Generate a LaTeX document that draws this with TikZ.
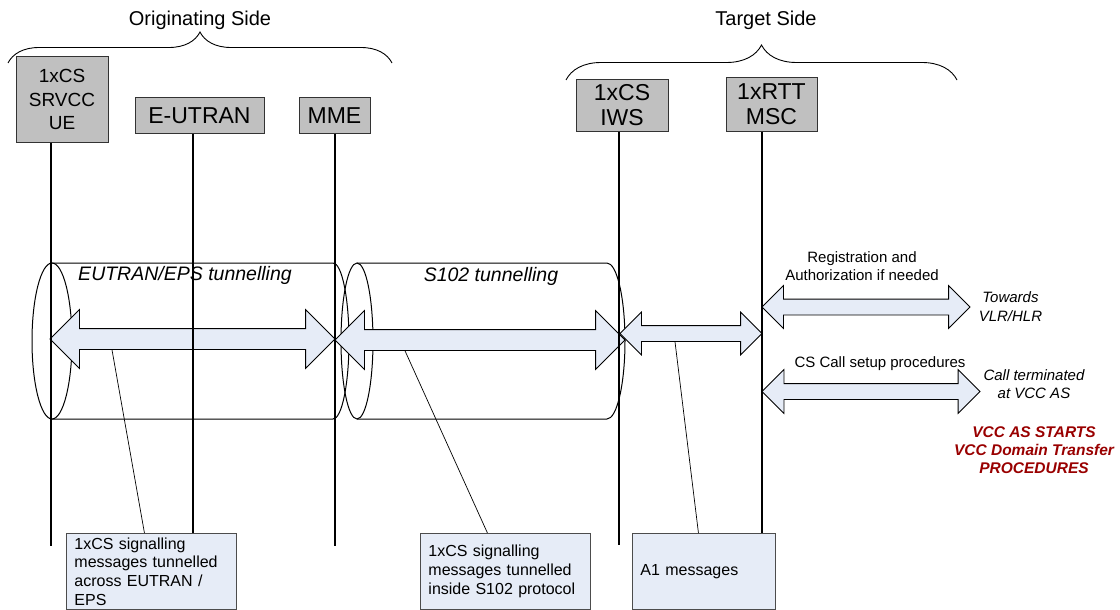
\documentclass[tikz,border=0pt]{standalone}
\usepackage{fontspec}
\setmainfont{Liberation Sans}
\usetikzlibrary{arrows.meta,
                positioning,
                shapes.arrows,
                decorations.pathreplacing}
\definecolor{entgray}{RGB}{192,192,192}
\definecolor{arrblue}{RGB}{230,236,247}
\definecolor{notered}{RGB}{153,0,0}

\begin{document}
\begin{tikzpicture}[x=1pt, y=-1pt,
node distance = 4pt,
   ENT/.style = {draw=black!80, fill=entgray, line width=1pt,
                 align=center, inner sep=0pt,
                 font=\fontsize{23}{25}\selectfont},
  NOTE/.style = {draw=black!70, fill=arrblue, line width=0.9pt,
                 anchor=north west, align=left, inner xsep=8pt,
                 inner ysep=0pt, minimum height=76pt,
                 font=\fontsize{16}{18.6}\selectfont},
  DARR/.style n args = {3}{double arrow, draw=black, fill=arrblue,
                 line width=0.8pt, inner sep=0pt, text depth=0pt,
                 minimum height=#1, text height=#2,
                 double arrow head extend=#3},
   TUN/.style = {draw=black, line width=1pt},
  LIFE/.style = {draw=black, line width=1.1pt},
  CALL/.style = {draw=black, line width=0.7pt},
   BRC/.style = {draw=black, line width=0.9pt, decorate},
   LBL/.style = {align=center, inner sep=0pt,
                 font=\fontsize{15}{18.5}\selectfont},
  TTL/.style = {inner sep=0pt, font=\fontsize{20}{24}\selectfont}
                        ]
\useasboundingbox (0,0) rectangle (1120,610);
% sides
\node[TTL] (orig-ttl) at (200,20) {Originating Side};
\node[TTL] (targ-ttl) at (766,20) {Target Side};
\draw[BRC, decoration={brace, amplitude=31pt}] (8,63) -- (392,63);
\draw[BRC, decoration={brace, amplitude=35pt}] (566,80) -- (957,80);
% tunnels
\draw[TUN] (52,341) ellipse [x radius=20, y radius=78];
\draw[TUN] (52,263) -- (333,263)
      .. controls (341.8,263) and (349,297.9) .. (349,341)
      .. controls (349,384.1) and (341.8,419) .. (333,419) -- (52,419);
\draw[TUN] (357,341) ellipse [x radius=16, y radius=78];
\draw[TUN] (357,263) -- (607,263)
      .. controls (616.9,263) and (625,297.9) .. (625,341)
      .. controls (625,384.1) and (616.9,419) .. (607,419) -- (357,419);
\node[font=\fontsize{19.5}{23}\selectfont\itshape, inner sep=0pt]
      (eps-lbl) at (185,275) {EUTRAN/EPS tunnelling};
\node[font=\fontsize{19.5}{23}\selectfont\itshape, inner sep=0pt]
      (s102-lbl) at (491,276) {S102 tunnelling};
% block arrows
\node[DARR={285pt}{20pt}{19pt}]   (a1) at (192.5,339) {};
\node[DARR={290pt}{20pt}{19pt}]   (a2) at (480,340) {};
\node[DARR={142pt}{15pt}{13.5pt}] (a3) at (691,333.5) {};
\node[DARR={208pt}{15pt}{13.5pt}] (a4) at (866,307) {};
\node[DARR={218pt}{15pt}{14pt}]   (a5) at (871,391.5) {};
% entities
\node[ENT, minimum width=92pt, minimum height=85pt,
      font=\fontsize{19}{23.5}\selectfont] (ue)
      at (62,99.5) {1xCS\\SRVCC\\UE};
\node[ENT, minimum width=129pt, minimum height=35pt] (eutran)
      at (199.5,115.5) {E-UTRAN};
\node[ENT, minimum width=71pt, minimum height=35pt] (mme)
      at (334.5,115.5) {MME};
\node[ENT, minimum width=92pt, minimum height=51pt] (iws)
      at (622,105.5) {1xCS\\IWS};
\node[ENT, minimum width=91pt, minimum height=53pt] (msc)
      at (771.5,104.5) {1xRTT\\MSC};
% notes
\node[NOTE, text width=154pt] (n1) at (66,533)
      {1xCS signalling\\messages tunnelled\\across EUTRAN /\\EPS};
\node[NOTE, text width=154pt] (n2) at (420,533)
      {1xCS signalling\\messages tunnelled\\inside S102 protocol};
\node[NOTE, text width=127pt] (n3) at (632,533) {A1 messages};
% lifelines
\coordinate (ue-end)     at (51,546);
\coordinate (eutran-end) at (193,533);
\coordinate (mme-end)    at (335,546);
\coordinate (iws-end)    at (619,545);
\coordinate (msc-end)    at (762,533);
\draw[LIFE] (ue.south -| ue-end) -- (ue-end);
\draw[LIFE] (eutran.south -| eutran-end) -- (eutran-end);
\draw[LIFE] (mme.south -| mme-end) -- (mme-end);
\draw[LIFE] (iws.south -| iws-end) -- (iws-end);
\draw[LIFE] (msc.south -| msc-end) -- (msc-end);
% callouts
\draw[CALL] ([xshift=-7pt]n1.north) -- ([xshift=-80.5pt]a1.south);
\draw[CALL] ([xshift=-18pt]n2.north) -- ([xshift=-75pt]a2.south);
\draw[CALL] ([xshift=-5.5pt]n3.north) -- ([xshift=-16pt]a3.south);
% right side texts
\node[LBL] (reg-lbl)  at (862,266) {Registration and\\Authorization if needed};
\node[LBL, font=\fontsize{15}{19}\selectfont\itshape, right=8pt of a4]
      (vlr-lbl) {Towards\\VLR/HLR};
\node[LBL] (call-lbl) at (880,364) {CS Call setup procedures};
\node[LBL, font=\fontsize{15}{18.5}\selectfont\itshape]
      (vcc-lbl) at (1034,384) {Call terminated\\at VCC AS};
\node[LBL, text=notered, font=\fontsize{15.5}{18}\selectfont\bfseries\itshape]
      (dt-lbl) at (1034,450) {VCC AS STARTS\\VCC Domain Transfer\\PROCEDURES};
\end{tikzpicture}
\end{document}
